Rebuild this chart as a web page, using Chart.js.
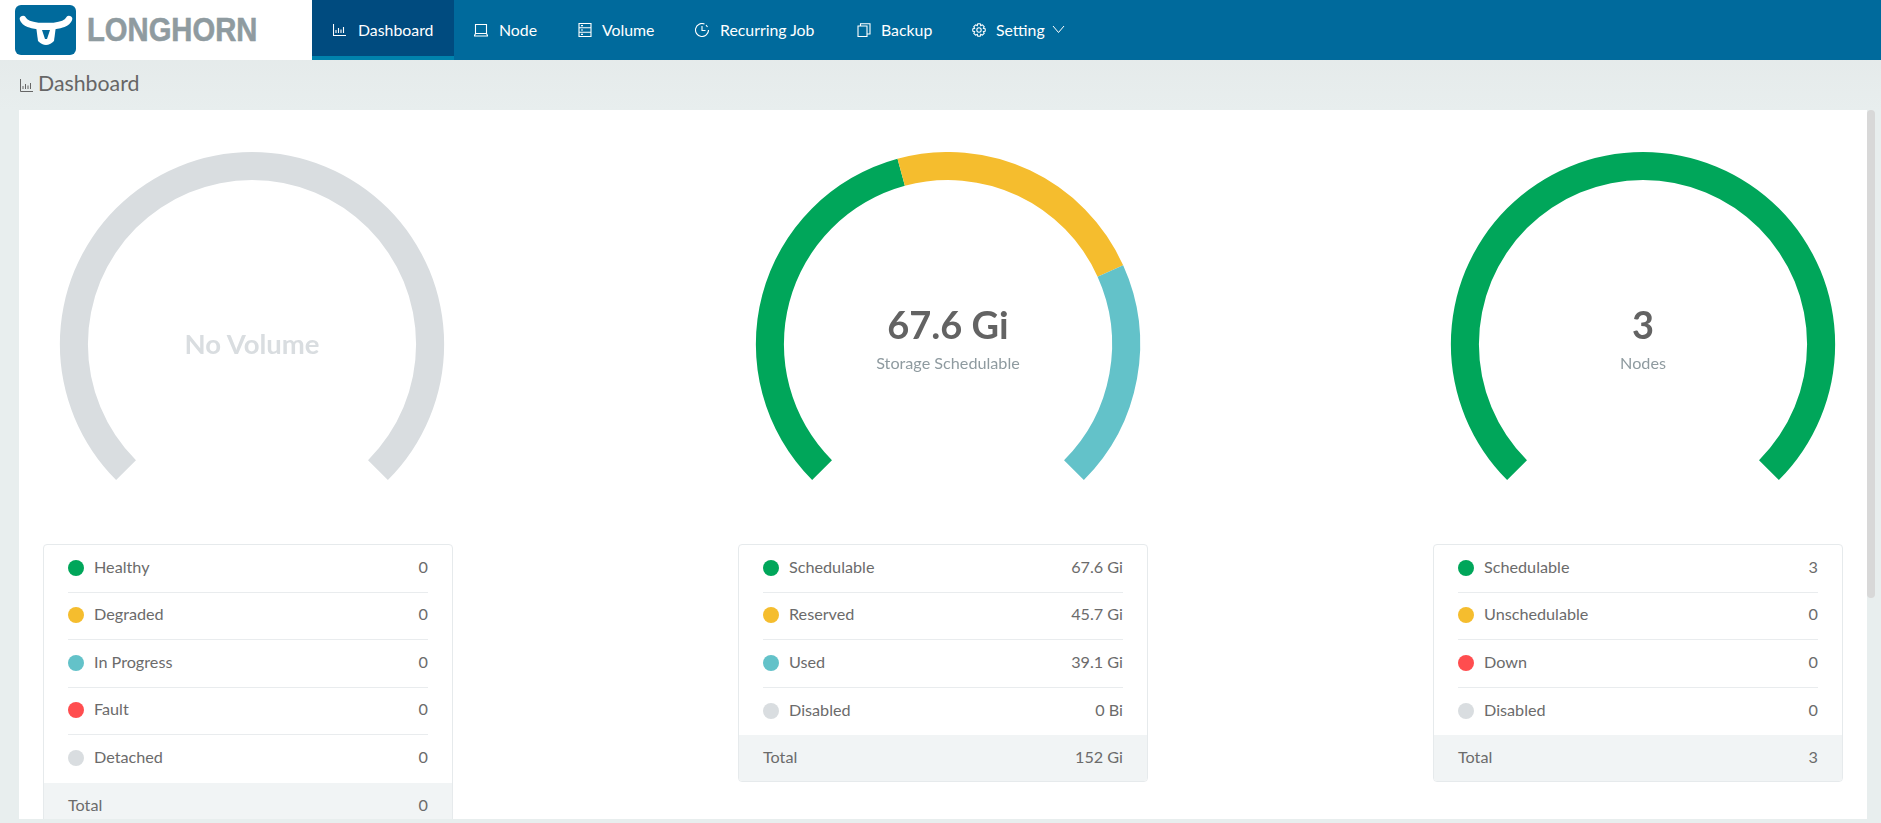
<!DOCTYPE html>
<html lang="en">
<head>
    <meta charset="UTF-8">
    <title>Longhorn Dashboard</title>
    <script src="https://cdn.jsdelivr.net/npm/chart.js"></script>
    <style>
        * { box-sizing: border-box; }
        html, body { margin: 0; width: 1881px; height: 823px; overflow: hidden; }
        body { position: relative; font-family: Lato, sans-serif; color: #6b6b6b; background: linear-gradient(#e2e7e7, #e8eeee 110px); }
        .abs { position: absolute; }
        #logoBox { left: 0; top: 0; width: 312px; height: 60px; background: #fff; }
        #logoText { left: 87px; top: 10px; font: bold 33px/40px "Liberation Sans", sans-serif; -webkit-text-stroke: .6px #8f9ba0; color: #8f9ba0; white-space: nowrap; transform-origin: left center; transform: scaleX(.885); }
        #nav { left: 312px; top: 0; width: 1569px; height: 60px; background: #006a9c; }
        #activeTab { left: 312px; top: 0; width: 142px; height: 56px; background: #004b7f; }
        #activeLine { left: 312px; top: 56px; width: 142px; height: 4px; background: #0082ad; }
        .navText { top: 18.5px; font-size: 15.85px; line-height: 22px; color: #fff; white-space: nowrap; }
        .navIcon { top: 22.5px; }
        #pageTitle { left: 38px; top: 68px; font-size: 21.3px; line-height: 30px; color: #666; }
        #panel { left: 19px; top: 110px; width: 1848px; height: 709px; background: #fff; }
        #scrollThumb { left: 1867px; top: 110px; width: 8px; height: 488px; background: #d8d8d8; border-radius: 4px; }
        .gaugeBox { top: 152px; width: 400px; height: 328px; }
        .big { width: 400px; text-align: center; font-weight: bold; white-space: nowrap; }
        .sub { width: 400px; text-align: center; font-size: 16.2px; line-height: 24px; color: #8f9ba0; }
        .card { top: 544px; width: 410px; border: 1px solid #e6eaec; border-radius: 4px; overflow: hidden; background: #fff; font-size: 16.2px; line-height: 24px; }
        .row { position: relative; height: 47.5px; margin: 0 24px; padding-bottom: 3px; border-bottom: 1px solid #e9ecee; display: flex; align-items: center; justify-content: space-between; }
        .row.last { border-bottom: none; }
        .dot { display: inline-block; width: 16px; height: 16px; border-radius: 50%; margin-right: 10px; vertical-align: -3px; }
        .total { height: 46px; padding: 0 24px 2px; background: #f1f4f5; display: flex; align-items: center; justify-content: space-between; }
    </style>
</head>
<body>
    <div id="logoBox" class="abs"></div>
    <svg class="abs" style="left:15px;top:5px" width="61" height="50" viewBox="0 0 61 50">
        <rect width="61" height="50" rx="6" fill="#006a9c"/>
        <path d="M8 14 C10 19 16 20 23 21 L39 21 C46 20 52 19 54 14" fill="none" stroke="#fff" stroke-width="6.5" stroke-linecap="round" stroke-linejoin="round"/>
        <path d="M21 21 H41 L39 36 Q31 44 23 36 Z" fill="#fff"/>
        <path d="M27 25 H35 L32 34 H30 Z" fill="#006a9c"/>
    </svg>
    <div id="logoText" class="abs">LONGHORN</div>
    <div id="nav" class="abs"></div>
    <div id="activeTab" class="abs"></div>
    <div id="activeLine" class="abs"></div>
    <div id="navItems"></div>

    <svg class="abs" style="left:20px;top:79px" width="13" height="13" viewBox="0 0 13 13" fill="none" stroke="#666"><path d="M.5 0V12.5H13M3 10V7M5.5 10V5M8 10V6.5M10.5 10V4"/></svg>
    <div id="pageTitle" class="abs">Dashboard</div>
    <div id="panel" class="abs"></div>
    <div id="scrollThumb" class="abs"></div>

    <script>
        const volumeLabels = ["Healthy", "Degraded", "In Progress", "Fault", "Detached"];
        const volumeValues = [0, 0, 0, 0, 0];
        const volumeText = ["0", "0", "0", "0", "0"];
        const volumeColors = ["#00a65a", "#f5bd2e", "#63c2c9", "#ff4d4f", "#d9dde0"];

        const storageLabels = ["Schedulable", "Reserved", "Used", "Disabled"];
        const storageValues = [67.6, 45.7, 39.1, 0];
        const storageText = ["67.6 Gi", "45.7 Gi", "39.1 Gi", "0 Bi"];
        const storageColors = ["#00a65a", "#f5bd2e", "#63c2c9", "#d9dde0"];

        const nodeLabels = ["Schedulable", "Unschedulable", "Down", "Disabled"];
        const nodeValues = [3, 0, 0, 0];
        const nodeText = ["3", "0", "0", "0"];
        const nodeColors = ["#00a65a", "#f5bd2e", "#ff4d4f", "#d9dde0"];

        const navLabels = ["Dashboard", "Node", "Volume", "Recurring Job", "Backup", "Setting"];
        const navTextX = [358, 499, 602, 720, 881, 996];
        const navIconX = [333, 474, 578, 695, 857, 972];
        const navIcons = [
            '<path d="M.5 1V12.5H13M3 10V7M5.5 10V5M8 10V6.5M10.5 10V4"/>',
            '<path d="M1.5 1.5H12.5V10.5H1.5ZM.3 13H13.7L12.5 10.5H1.5Z"/>',
            '<path d="M1 .5H13V13.5H1ZM1 4.8H13M1 9.2H13M3 2.6H5M3 7H5M3 11.4H5"/>',
            '<path d="M9.5 1A6.5 6.5 0 1 0 13.5 7M7 3V7.5H10.5M11 2L12.5 4"/>',
            '<path d="M1 3H10V13.5H1ZM3.5 3V.8H13V11H10"/>',
            '<circle cx="7" cy="7" r="2.2"/><path d="M5.8 .8H8.2L8.7 2.6L10.4 1.8L12.2 3.6L11.4 5.3L13.2 5.8V8.2L11.4 8.7L12.2 10.4L10.4 12.2L8.7 11.4L8.2 13.2H5.8L5.3 11.4L3.6 12.2L1.8 10.4L2.6 8.7L.8 8.2V5.8L2.6 5.3L1.8 3.6L3.6 1.8L5.3 2.6Z"/>'
        ];

        function renderNav() {
            let html = "";
            navLabels.forEach(function (label, i) {
                html += '<svg class="abs navIcon" style="left:' + navIconX[i] + 'px" width="14" height="14" viewBox="0 0 14 14" fill="none" stroke="#fff" stroke-width="1.1">' + navIcons[i] + '</svg>';
                html += '<div class="abs navText" style="left:' + navTextX[i] + 'px">' + label + '</div>';
            });
            // chevron after Setting
            html += '<svg class="abs" style="left:1052px;top:25px" width="13" height="9" viewBox="0 0 13 9" fill="none" stroke="#fff"><path d="M1 1L6.5 7.5L12 1"/></svg>';
            document.getElementById("navItems").innerHTML = html;
        }

        function renderGauge(id, left, labels, values, colors) {
            let box = document.createElement("div");
            box.className = "abs gaugeBox";
            box.style.left = left + "px";
            box.innerHTML = '<canvas id="' + id + '"></canvas>';
            document.body.appendChild(box);

            let total = values.reduce(function (a, b) { return a + b; }, 0);
            // an empty gauge still shows a full grey ring
            let hasData = total > 0;

            new Chart(document.getElementById(id).getContext("2d"), {
                type: "doughnut",
                data: {
                    labels: hasData ? labels : ["None"],
                    datasets: [{
                        data: hasData ? values : [1],
                        backgroundColor: hasData ? colors : ["#d9dde0"],
                        borderWidth: 0
                    }]
                },
                options: {
                    responsive: true,
                    maintainAspectRatio: false,
                    animation: false,
                    rotation: -135,
                    circumference: 270,
                    cutout: "85.4%",
                    plugins: { legend: { display: false }, tooltip: { enabled: false } }
                }
            });
        }

        function addText(left, top, cls, size, color, text) {
            let el = document.createElement("div");
            el.className = "abs " + cls;
            el.style.left = left + "px";
            el.style.top = top + "px";
            if (size) el.style.fontSize = size + "px";
            if (size) el.style.lineHeight = "44px";
            if (color) el.style.color = color;
            el.textContent = text;
            document.body.appendChild(el);
        }

        function renderCard(left, labels, text, colors, totalText) {
            let card = document.createElement("div");
            card.className = "abs card";
            card.style.left = left + "px";
            let html = "";
            labels.forEach(function (label, i) {
                let last = i === labels.length - 1 ? " last" : "";
                html += '<div class="row' + last + '"><span><span class="dot" style="background:' + colors[i] + '"></span>' + label + '</span><span>' + text[i] + '</span></div>';
            });
            html += '<div class="total"><span>Total</span><span>' + totalText + '</span></div>';
            card.innerHTML = html;
            document.body.appendChild(card);
        }

        renderNav();

        renderGauge("volumeChart", 52, volumeLabels, volumeValues, volumeColors);
        renderGauge("storageChart", 748, storageLabels, storageValues, storageColors);
        renderGauge("nodeChart", 1443, nodeLabels, nodeValues, nodeColors);

        addText(52, 322, "big", 27.5, "#d9dde0", "No Volume");
        addText(748, 302, "big", 38, "#636363", "67.6 Gi");
        addText(748, 351, "sub", 0, "", "Storage Schedulable");
        addText(1443, 302, "big", 38, "#636363", "3");
        addText(1443, 351, "sub", 0, "", "Nodes");

        renderCard(43, volumeLabels, volumeText, volumeColors, "0");
        renderCard(738, storageLabels, storageText, storageColors, "152 Gi");
        renderCard(1433, nodeLabels, nodeText, nodeColors, "3");

        // the page panel cuts off the first card, its bottom strip sits above it
        let strip = document.createElement("div");
        strip.className = "abs";
        strip.style.cssText = "left:0;top:819px;width:1881px;height:4px;background:#e8eeee";
        document.body.appendChild(strip);
    </script>
</body>
</html>
